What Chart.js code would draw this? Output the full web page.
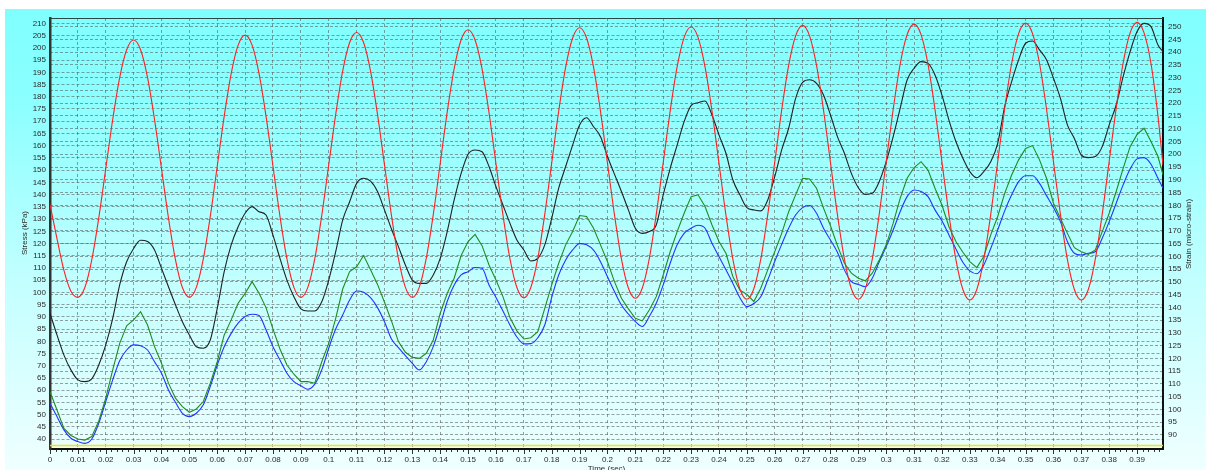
<!DOCTYPE html>
<html>
<head>
<meta charset="utf-8">
<script src="https://cdn.jsdelivr.net/npm/chart.js@4.4.0/dist/chart.umd.min.js"></script>
<style>
html,body{margin:0;padding:0;background:#fff;overflow:hidden}
canvas{display:block}
</style>
</head>
<body>
<canvas id="c" width="1206" height="470"></canvas>
<script>
// Sample times (s)
const timeSec = [
0,0.0025,0.005,0.0075, 0.01,0.0125,0.015,0.0175, 0.02,0.0225,0.025,0.0275, 0.03,0.0325,0.035,0.0375,
0.04,0.0425,0.045,0.0475, 0.05,0.0525,0.055,0.0575, 0.06,0.0625,0.065,0.0675, 0.07,0.0725,0.075,0.0775,
0.08,0.0825,0.085,0.0875, 0.09,0.0925,0.095,0.0975, 0.1,0.1025,0.105,0.1075, 0.11,0.1125,0.115,0.1175,
0.12,0.1225,0.125,0.1275, 0.13,0.1325,0.135,0.1375, 0.14,0.1425,0.145,0.1475, 0.15,0.1525,0.155,0.1575,
0.16,0.1625,0.165,0.1675, 0.17,0.1725,0.175,0.1775, 0.18,0.1825,0.185,0.1875, 0.19,0.1925,0.195,0.1975,
0.2,0.2025,0.205,0.2075, 0.21,0.2125,0.215,0.2175, 0.22,0.2225,0.225,0.2275, 0.23,0.2325,0.235,0.2375,
0.24,0.2425,0.245,0.2475, 0.25,0.2525,0.255,0.2575, 0.26,0.2625,0.265,0.2675, 0.27,0.2725,0.275,0.2775,
0.28,0.2825,0.285,0.2875, 0.29,0.2925,0.295,0.2975, 0.3,0.3025,0.305,0.3075, 0.31,0.3125,0.315,0.3175,
0.32,0.3225,0.325,0.3275, 0.33,0.3325,0.335,0.3375, 0.34,0.3425,0.345,0.3475, 0.35,0.3525,0.355,0.3575,
0.36,0.3625,0.365,0.3675, 0.37,0.3725,0.375,0.3775, 0.38,0.3825,0.385,0.3875, 0.39,0.3925,0.395,0.3975,
0.3993
];

// Applied stress (kPa) - left axis
const stressKPa = [
136,122,109,100.5, 98,102.0,113.4,130.5, 150.6,170.7,187.8,199.2, 203.2,199.2,187.8,170.7,
150.6,130.5,113.4,102.0, 98,102.1,113.7,131.1, 151.6,172.1,189.5,201.1, 205.2,201.1,189.5,172.1,
151.6,131.1,113.7,102.1, 98,102.1,113.8,131.5, 152.2,172.8,190.5,202.2, 206.3,202.2,190.5,172.8,
152.2,131.5,113.8,102.1, 98,102.2,114.0,131.8, 152.8,173.7,191.5,203.3, 207.4,203.2,191.4,173.5,
152.6,131.7,113.8,102.0, 97.8,102.0,113.9,131.9, 153.0,174.1,192.1,204.0, 208.2,204.0,192.1,174.0,
152.9,131.8,113.7,101.8, 97.6,101.8,113.8,131.9, 153.1,174.2,192.3,204.3, 208.5,204.3,192.2,174.1,
152.9,131.6,113.5,101.4, 97.2,101.5,113.6,131.8, 153.2,174.6,192.8,204.9, 209.2,204.9,192.8,174.6,
153.2,131.8,113.6,101.5, 97.2,101.5,113.6,132.0, 153.5,174.9,193.3,205.4, 209.7,205.4,193.2,174.8,
153.3,131.8,113.4,101.2, 96.9,101.2,113.4,131.9, 153.5,175.1,193.6,205.8, 210.1,205.8,193.6,175.1,
153.5,131.9,113.4,101.2, 96.9,101.2,113.5,132.0, 153.7,175.3,193.8,206.1, 210.4,206.1,193.5,172,
152
];

// Strain (micro-strain) - right axis
const strainBlack = [
137.7,129.2,121.3,115.5, 111.6,110.9,112.0,117.4, 125.3,135.7,148.8,157.9, 163.1,166.3,165.8,162.5,
155.3,148.1,141.0,134.4, 129.2,124.6,124.0,127.2, 139.6,154.0,164.5,171.6, 176.9,179.5,177.5,176.2,
168.3,159.2,150.7,144.2, 139.4,138.6,138.6,142.2, 150.7,161.8,174.2,181.4, 188.6,190.6,189.5,185.4,
178.2,170.7,163.8,156.6, 150.7,149.4,149.4,152.7, 159.2,169.7,182.1,192.5, 200.0,201.7,201.0,195.2,
187.3,180.1,173.0,166.4, 162.5,158.2,159.2,164.5, 174.9,186.7,195.2,203.6, 211.5,214.3,210.8,206.9,
199.1,192.2,185.4,178.2, 171.0,169.0,169.7,172.3, 184.1,194.5,203.6,212.8, 219.1,220.2,220.9,215.4,
207.6,200.4,189.9,184.1, 179.1,178.2,177.8,182.1, 191.2,201.7,210.2,221.9, 228.2,229.2,227.8,223.2,
215.4,206.9,200.4,192.5, 186.9,184.3,184.7,189.3, 197.1,206.9,218.0,229.1, 233.7,236.3,235.6,231.1,
223.2,213.4,205.0,198.4, 193.2,190.8,193.2,197.1, 204.3,218.7,228.5,237.0, 243.5,244.4,240.9,237.0,
229.8,221.9,211.5,206.2, 199.7,198.7,199.1,203.0, 211.5,219.3,230.4,240.2, 248.1,251.3,250.0,242.8,
240.2
];

const strainGreen = [
107.0,99.8,92.6,89.8, 88.4,88.0,89.4,95.5, 104.4,115.5,125.9,132.8, 135.1,138.3,133.1,124.6,
118.1,110.3,104.4,101.1, 98.9,100.2,103.1,110.3, 118.7,129.2,135.1,141.6, 145.5,150.1,145.5,139.9,
131.5,123.7,117.4,113.8, 110.9,110.9,110.3,118.7, 125.9,135.7,147.2,154.0, 155.9,160.3,154.7,149.0,
142.0,134.7,126.6,122.4, 120.4,120.0,122.0,127.2, 137.7,145.5,151.4,160.3, 165.8,168.6,164.2,156.6,
150.7,144.2,136.0,130.8, 127.6,128.1,130.5,139.6, 148.8,157.3,164.5,169.7, 176.0,175.6,171.0,164.5,
157.9,150.1,143.6,139.4, 135.7,134.7,139.0,144.2, 152.7,161.8,169.7,176.9, 183.4,184.1,179.5,172.3,
165.8,161.2,152.0,146.8, 145.1,142.3,147.5,154.7, 161.8,169.0,177.5,184.1, 190.6,190.3,186.7,178.9,
172.0,164.2,157.3,153.4, 151.4,150.4,153.4,158.6, 164.5,173.0,182.7,190.6, 194.8,197.1,193.8,186.7,
180.1,171.6,165.8,161.6, 157.9,155.6,159.9,168.4, 175.6,184.7,191.9,197.8, 202.3,203.4,197.8,190.6,
180.8,174.9,169.0,163.4, 161.8,160.8,162.5,169.7, 176.9,185.4,194.5,203.0, 207.8,210.2,205.0,199.1,
191.9
];

const strainBlue = [
102.4,97.2,92.0,88.7, 87.4,86.7,88.4,94.6, 103.1,111.6,119.1,123.3, 125.3,125.0,123.3,118.7,
114.2,107.6,102.8,98.5, 97.2,98.5,101.8,109.0, 117.4,124.6,129.8,133.8, 136.4,137.3,136.8,131.2,
124.6,119.4,114.2,110.9, 109.3,107.9,109.9,115.5, 124.0,131.5,137.0,142.9, 146.4,145.9,143.8,139.9,
134.4,127.6,124.2,121.1, 118.1,115.5,118.7,124.6, 133.1,142.3,148.8,152.7, 154.0,155.6,155.3,148.8,
143.9,138.6,133.1,128.4, 125.7,125.8,128.1,133.1, 143.9,152.7,158.6,162.5, 165.0,164.5,162.4,157.9,
152.0,146.2,140.9,137.4, 134.4,132.5,136.4,141.6, 148.8,157.3,164.5,169.0, 171.0,172.2,171.0,165.1,
159.9,154.7,149.4,143.8, 140.3,141.5,144.2,150.7, 158.0,164.7,171.0,176.2, 179.1,179.9,176.9,171.0,
166.4,161.6,154.7,150.1, 149.0,148.1,151.4,157.9, 163.8,170.3,177.5,183.4, 186.0,185.4,183.4,178.2,
173.9,168.4,162.9,157.7, 154.3,153.2,156.6,163.1, 170.3,177.8,184.1,189.3, 191.6,191.6,188.6,183.8,
179.1,173.6,165.8,161.2, 160.5,161.2,161.8,167.1, 173.6,180.8,188.0,194.2, 198.2,198.7,196.1,190.6,
186.7
];

// Axis tick labels
const timeTicks = [0,0.01,0.02,0.03,0.04,0.05,0.06,0.07,0.08,0.09,0.1,0.11,0.12,0.13,0.14,0.15,0.16,0.17,0.18,0.19,
  0.2,0.21,0.22,0.23,0.24,0.25,0.26,0.27,0.28,0.29,0.3,0.31,0.32,0.33,0.34,0.35,0.36,0.37,0.38,0.39];
const stressTicks = [40,45,50,55,60,65,70,75,80,85,90,95,100,105,110,115,120,125,130,135,140,145,150,155,160,
  165,170,175,180,185,190,195,200,205,210];
const strainTicks = [90,95,100,105,110,115,120,125,130,135,140,145,150,155,160,165,170,175,180,185,190,195,200,
  205,210,215,220,225,230,235,240,245,250];

const FONT = "'Liberation Sans', Arial, sans-serif";
const TEXT = '#2a2a2a';
const GRID = 'rgba(90,95,95,0.6)';

const xy = arr => timeSec.map((t, i) => ({x: t, y: arr[i]}));
const fixTicks = list => scale => { scale.ticks = list.map(v => ({value: v})); };

// Background panel, reference line, tick marks and axis titles
const decor = {
  id: 'decor',
  beforeDraw(chart) {
    const {ctx, width, height} = chart;
    ctx.save();
    ctx.fillStyle = '#ffffff';
    ctx.fillRect(0, 0, width, height);
    const g = ctx.createLinearGradient(0, 9, 0, height);
    g.addColorStop(0, '#80ffff');
    g.addColorStop(0.2, '#8cffff');
    g.addColorStop(0.6, '#c4ffff');
    g.addColorStop(1, '#f0ffff');
    ctx.fillStyle = g;
    ctx.fillRect(5, 9, width - 5, height - 9);
    ctx.restore();
  },
  beforeDatasetsDraw(chart) {
    const {ctx, chartArea: a} = chart;
    ctx.save();
    ctx.strokeStyle = '#f5e400';
    ctx.lineWidth = 1.5;
    ctx.beginPath();
    ctx.moveTo(a.left, a.bottom - 3.5);
    ctx.lineTo(a.right, a.bottom - 3.5);
    ctx.stroke();
    ctx.restore();
  },
  afterDraw(chart) {
    const {ctx, chartArea: a, scales} = chart;
    ctx.save();
    ctx.strokeStyle = '#2d4646';
    ctx.lineWidth = 1;
    ctx.beginPath();
    ctx.moveTo(a.left, a.top + 0.5);
    ctx.lineTo(a.right, a.top + 0.5);
    ctx.stroke();

    // small tick marks below the time axis
    const sx = scales.x;
    ctx.strokeStyle = '#333';
    ctx.beginPath();
    for (let k = 0; ; k++) {
      const v = k * 0.002;
      if (v > sx.max + 1e-9) break;
      const px = Math.round(sx.getPixelForValue(v)) + 0.5;
      const len = (k % 5 === 0) ? 4 : 2;
      ctx.moveTo(px, a.bottom + 1);
      ctx.lineTo(px, a.bottom + 1 + len);
    }
    ctx.stroke();

    ctx.fillStyle = TEXT;
    ctx.font = '8px ' + FONT;
    ctx.textAlign = 'center';
    ctx.textBaseline = 'top';
    ctx.fillText('Time (sec)', (a.left + a.right) / 2, 465);

    ctx.textBaseline = 'middle';
    ctx.save();
    ctx.translate(25, 233);
    ctx.rotate(-Math.PI / 2);
    ctx.fillText('Stress (kPa)', 0, 0);
    ctx.restore();

    ctx.save();
    ctx.translate(1189, 234);
    ctx.rotate(-Math.PI / 2);
    ctx.fillText('Strain (micro-strain)', 0, 0);
    ctx.restore();
    ctx.restore();
  }
};

const tickFont = {family: FONT, size: 8};

new Chart(document.getElementById('c'), {
  type: 'line',
  data: {
    datasets: [
      {label: 'Stress', data: xy(stressKPa), yAxisID: 'yL', borderColor: '#ff2020', borderWidth: 1.1,
       pointRadius: 0, cubicInterpolationMode: 'monotone'},
      {label: 'Strain 1', data: xy(strainBlack), yAxisID: 'yR', borderColor: '#202020', borderWidth: 1.1,
       pointRadius: 0, cubicInterpolationMode: 'monotone'},
      {label: 'Strain 2', data: xy(strainGreen), yAxisID: 'yR', borderColor: '#1e8c1e', borderWidth: 1.1,
       pointRadius: 0, tension: 0},
      {label: 'Strain 3', data: xy(strainBlue), yAxisID: 'yR', borderColor: '#2233ff', borderWidth: 1.1,
       pointRadius: 0, cubicInterpolationMode: 'monotone'}
    ]
  },
  options: {
    responsive: false,
    devicePixelRatio: 1,
    animation: false,
    layout: {padding: {top: 18, left: 0, right: 0, bottom: 0}},
    plugins: {legend: {display: false}, tooltip: {enabled: false}},
    scales: {
      x: {
        type: 'linear', min: 0, max: 0.3993,
        afterBuildTicks: fixTicks(timeTicks),
        afterFit: s => { s.height = 21; },
        grid: {color: GRID, lineWidth: 1, drawTicks: false},
        border: {display: true, color: '#111', width: 2, dash: [3, 3]},
        ticks: {padding: 6, autoSkip: false, maxRotation: 0, color: TEXT, font: tickFont,
                callback: v => String(+Number(v).toFixed(2))}
      },
      yL: {
        type: 'linear', position: 'left', min: 36, max: 212.2,
        afterBuildTicks: fixTicks(stressTicks),
        afterFit: s => { s.width = 50; },
        grid: {color: GRID, lineWidth: 1, drawTicks: false},
        border: {display: true, color: '#333', width: 2.5, dash: [3, 2]},
        ticks: {padding: 4, autoSkip: false, color: TEXT, font: tickFont}
      },
      yR: {
        type: 'linear', position: 'right', min: 84.5, max: 253.4,
        afterBuildTicks: fixTicks(strainTicks),
        afterFit: s => { s.width = 43; },
        grid: {color: GRID, lineWidth: 1, drawTicks: false},
        border: {display: true, color: '#111', width: 2, dash: [3, 2]},
        ticks: {padding: 5, autoSkip: false, color: TEXT, font: tickFont}
      }
    }
  },
  plugins: [decor]
});
</script>
</body>
</html>
